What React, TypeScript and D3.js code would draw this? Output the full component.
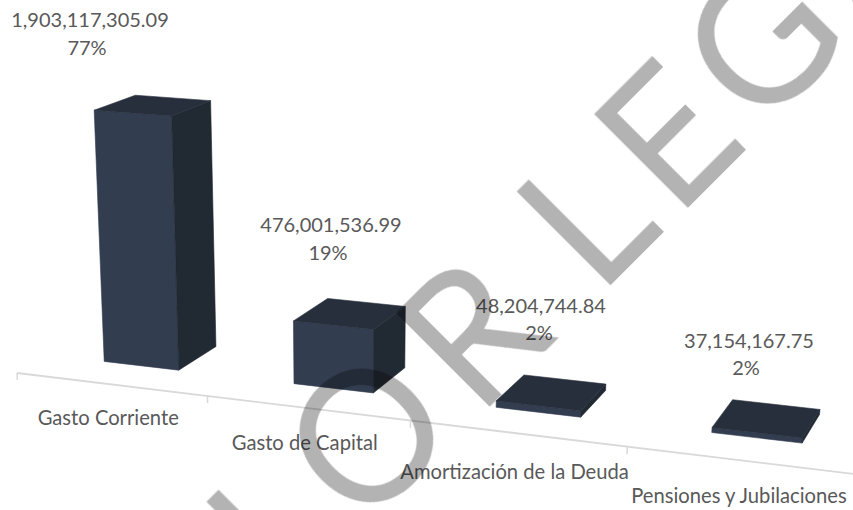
import * as d3 from "d3";

const categories = ["Gasto Corriente", "Gasto de Capital", "Amortización de la Deuda", "Pensiones y Jubilaciones"];
const amounts = [1903117305.09, 476001536.99, 48204744.84, 37154167.75];
const shares = ["77%", "19%", "2%", "2%"];

// Excel moved these by hand, so they don't follow the bars
const amountLabelPos = [[90, 27], [331, 232], [541, 313], [749, 348]];
const shareLabelPos = [[87, 55], [328, 260], [539, 340], [746, 375]];
const categoryLabelNudge = [-1, 0, 4, 1];

const width = 853;
const height = 510;
const FONT = "Lato, 'Open Sans', sans-serif";

const xBand = d3.scaleBand<string>().domain(categories).range([0, 4]).paddingInner(0.6).paddingOuter(0.3);
const yValue = d3.scaleLinear().domain([0, d3.max(amounts)!]).range([0, 1]);
const zDepth = d3.scaleLinear().domain([0, 1]).range([0.282, 0.658]);

// perspective camera of the 3D column chart: model (x, y, z) to screen
const project = (x: number, y: number, z: number): [number, number] => {
  const w = 1 - 0.031 * x - 0.04 * y + 0.095 * z;
  return [
    (17 + 184 * x - 14 * y + 120 * z) / w,
    (373 + 10.7 * x - 260 * y - 30 * z) / w,
  ];
};

const polygon = d3.line().curve(d3.curveLinearClosed);

function Face({ points, color }: { points: [number, number][]; color: string }) {
  return <path d={polygon(points)!} fill={color} stroke={color} strokeWidth={0.6} strokeLinejoin="round" />;
}

function Bar({ category, value }: { category: string; value: number }) {
  const x0 = xBand(category)!;
  const x1 = x0 + xBand.bandwidth();
  const y = yValue(value);
  const z0 = zDepth(0);
  const z1 = zDepth(1);
  return (
    <g>
      <Face points={[project(x0, 0, z0), project(x1, 0, z0), project(x1, y, z0), project(x0, y, z0)]} color="#323d50" />
      <Face points={[project(x1, 0, z0), project(x1, 0, z1), project(x1, y, z1), project(x1, y, z0)]} color="#212932" />
      <Face points={[project(x0, y, z0), project(x1, y, z0), project(x1, y, z1), project(x0, y, z1)]} color="#262f3b" />
    </g>
  );
}

export default function App() {
  const step = xBand.step();
  const ticks = d3.range(categories.length + 1).map((i) => i * step);
  const axisEnd = project(4.2, 0, 0);

  return (
    <svg
      width={width}
      height={height}
      style={{ position: "absolute", left: 0, top: 0, display: "block", background: "#fff" }}
      fontFamily={FONT}
    >
      {/* Axis */}
      <line
        x1={project(0, 0, 0)[0]}
        y1={project(0, 0, 0)[1]}
        x2={axisEnd[0]}
        y2={axisEnd[1]}
        stroke="#d9d9d9"
        strokeWidth={1.8}
      />
      {ticks.map((t) => {
        const [tx, ty] = project(t, 0, 0);
        const [bx, by] = project(t, -0.028, 0);
        return <line key={t} x1={tx} y1={ty} x2={bx} y2={by} stroke="#d9d9d9" strokeWidth={1.5} />;
      })}

      {/* Bars */}
      {categories.map((c, i) => (
        <Bar key={c} category={c} value={amounts[i]} />
      ))}

      {/* Category labels */}
      {categories.map((c, i) => {
        const [lx, ly] = project(xBand(c)! + xBand.bandwidth() / 2, 0, 0);
        return (
          <text key={c} x={lx - 2.5} y={ly + 42 + categoryLabelNudge[i]} textAnchor="middle" fontSize={20.2} fill="#595959">
            {c}
          </text>
        );
      })}

      {/* Data labels */}
      {amounts.map((v, i) => (
        <text key={i} x={amountLabelPos[i][0]} y={amountLabelPos[i][1]} textAnchor="middle" fontSize={20} fill="#595959">
          {d3.format(",.2f")(v)}
        </text>
      ))}
      {shares.map((s, i) => (
        <text key={i} x={shareLabelPos[i][0]} y={shareLabelPos[i][1]} textAnchor="middle" fontSize={20} fill="#595959">
          {s}
        </text>
      ))}

      {/* Watermark: light weight thickened with a stroke */}
      <g
        style={{ mixBlendMode: "multiply" }}
        fill="#b3b3b3"
        stroke="#b3b3b3"
        strokeWidth={8}
        strokeLinejoin="miter"
        fontSize={175}
        fontWeight={300}
      >
        <text transform="translate(606,284) rotate(-45)" dx={-12} letterSpacing={21}>LEGAL</text>
        <text transform="translate(606,284) rotate(-45)" dx={-53} letterSpacing={24} textAnchor="end">SIN VALOR</text>
      </g>
    </svg>
  );
}
